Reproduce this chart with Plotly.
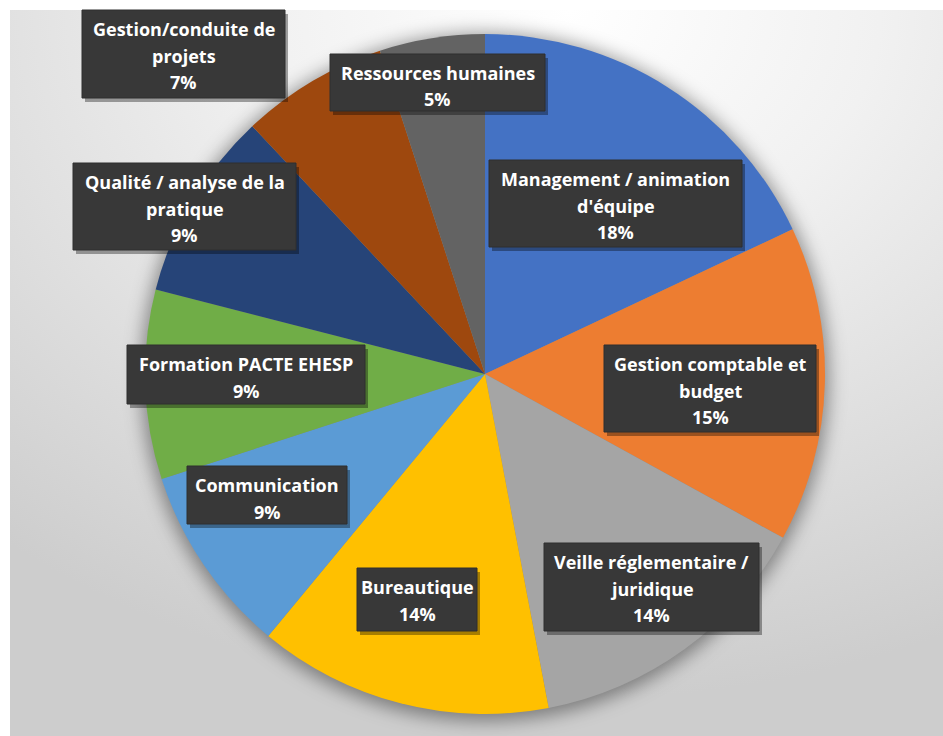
import base64
import plotly.graph_objects as go

W, H = 943, 736

# ---- data ----
categories = [
    "Management / animation d'équipe",
    "Gestion comptable et budget",
    "Veille réglementaire / juridique",
    "Bureautique",
    "Communication",
    "Formation PACTE EHESP",
    "Qualité / analyse de la pratique",
    "Gestion/conduite de projets",
    "Ressources humaines",
]
values = [18, 15, 14, 14, 9, 9, 9, 7, 5]
wrapped_labels = [
    ["Management / animation", "d'équipe"],
    ["Gestion comptable et", "budget"],
    ["Veille réglementaire /", "juridique"],
    ["Bureautique"],
    ["Communication"],
    ["Formation PACTE EHESP"],
    ["Qualité / analyse de la", "pratique"],
    ["Gestion/conduite de", "projets"],
    ["Ressources humaines"],
]
colors = ["#4472C4", "#ED7D31", "#A5A5A5", "#FFC000", "#5B9BD5",
          "#70AD47", "#264478", "#9E480E", "#636363"]

# label box pixel bounds (x0, y0, x1, y1)
boxes = [
    (489, 160, 742, 247),
    (604, 345, 816, 432),
    (544, 543, 759, 631),
    (357, 568, 477, 631),
    (187, 466, 347, 524),
    (127, 345, 365, 404),
    (73, 163, 296, 250),
    (82, 10, 285, 98),
    (330, 54, 545, 111),
]


def px(x):
    return x / W


def py(y):
    return 1 - y / H


# ---- background (gradient + pie shadow) ----
bw, bh = W - 10, H - 10
cx, cy, r = 485 - 10, 374 - 10, 340
svg = f'''<svg xmlns="http://www.w3.org/2000/svg" width="{bw}" height="{bh}">
<defs>
<radialGradient id="g" cx="{560/bw}" cy="0.0" r="0.95" gradientUnits="objectBoundingBox">
<stop offset="0" stop-color="#ffffff"/>
<stop offset="0.35" stop-color="#f1f1f1"/>
<stop offset="1" stop-color="#cdcdcd"/>
</radialGradient>
<filter id="b" x="-20%" y="-20%" width="140%" height="140%"><feGaussianBlur stdDeviation="9"/></filter>
</defs>
<rect x="0" y="0" width="{bw}" height="{bh}" fill="url(#g)"/>
<circle cx="{cx}" cy="{cy+3}" r="{r+4}" fill="#000" fill-opacity="0.4" filter="url(#b)"/>
</svg>'''
src = "data:image/svg+xml;base64," + base64.b64encode(svg.encode()).decode()

fig = go.Figure()
fig.add_trace(go.Pie(
    labels=categories,
    values=values,
    sort=False,
    direction="clockwise",
    rotation=0,
    marker=dict(colors=colors, line=dict(width=0)),
    textinfo="none",
    hoverinfo="label+percent",
    showlegend=False,
    domain=dict(x=[px(145), px(825)], y=[py(714), py(34)]),
))

total = sum(values)
shapes = []
annotations = []
for lines, v, (x0, y0, x1, y1) in zip(wrapped_labels, values, boxes):
    # shadow
    shapes.append(dict(type="rect", xref="paper", yref="paper",
                       x0=px(x0 + 3), x1=px(x1 + 3), y0=py(y1 + 4), y1=py(y0 + 4),
                       fillcolor="rgba(0,0,0,0.35)", line=dict(width=0), layer="above"))
    shapes.append(dict(type="rect", xref="paper", yref="paper",
                       x0=px(x0), x1=px(x1), y0=py(y1), y1=py(y0),
                       fillcolor="#383838", line=dict(width=1, color="#2e2e2e"), layer="above"))
    all_lines = lines + [f"{round(100 * v / total)}%"]
    xc = (x0 + x1) / 2
    for i, t in enumerate(all_lines):
        yl = y0 + 19 + 26.5 * i
        annotations.append(dict(x=px(xc), y=py(yl), xref="paper", yref="paper",
                                text=f"<b>{t}</b>", showarrow=False,
                                xanchor="center", yanchor="middle",
                                font=dict(family="Open Sans", size=18, color="#ffffff")))

fig.update_layout(
    width=W, height=H,
    margin=dict(l=0, r=0, t=0, b=0),
    paper_bgcolor="#ffffff",
    images=[dict(source=src, xref="paper", yref="paper", x=px(10), y=py(10),
                 sizex=px(bw), sizey=bh / H, xanchor="left", yanchor="top",
                 sizing="stretch", layer="below")],
    shapes=shapes,
    annotations=annotations,
)

fig.write_html("out.html")
